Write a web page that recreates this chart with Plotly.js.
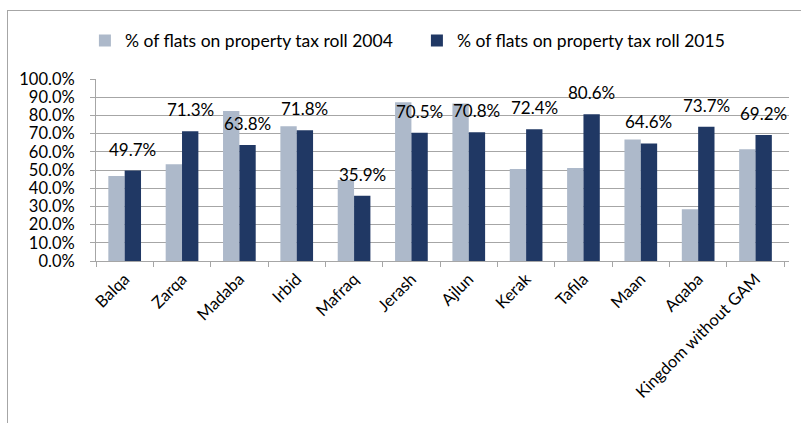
<!DOCTYPE html>
<html><head><meta charset="utf-8">
<script src="https://cdn.plot.ly/plotly-3.0.1.min.js"></script>
<style>
html,body{margin:0;padding:0;background:#fff;}
#wrap{position:relative;width:801px;height:423px;overflow:hidden;}
#chart{position:absolute;left:0;top:0;width:801px;height:423px;}
#frame{position:absolute;left:7px;top:10px;width:820px;height:440px;border:1px solid #a6a6a6;pointer-events:none;}
</style></head>
<body><div id="wrap"><div id="chart"></div><div id="frame"></div></div>
<script>
const categories = ["Balqa","Zarqa","Madaba","Irbid","Mafraq","Jerash","Ajlun","Kerak","Tafila","Maan","Aqaba","Kingdom without GAM"];
const series2004 = [0.467,0.531,0.824,0.740,0.445,0.872,0.866,0.505,0.511,0.667,0.284,0.614];
const series2015 = [0.497,0.713,0.638,0.718,0.359,0.705,0.708,0.724,0.806,0.646,0.737,0.692];
const name2004 = "% of flats on property tax roll 2004";
const name2015 = "% of flats on property tax roll 2015";
const yTicks = [0,0.1,0.2,0.3,0.4,0.5,0.6,0.7,0.8,0.9,1.0];

const fam = "Lato, 'Open Sans', sans-serif";
const tickFont = {family:fam, size:16.5, color:"#000"};
const labelFont = {family:fam, size:17, color:"#000"};
const legendFont = {family:fam, size:17.5, color:"#000"};

const traces = [
  {type:"bar", name:name2004, x:categories, y:series2004, marker:{color:"#adb9ca"}, hoverinfo:"skip"},
  {type:"bar", name:name2015, x:categories, y:series2015, marker:{color:"#203864"}, hoverinfo:"skip"}
];

const annotations = categories.map((c,i)=>({
  x:c, y:series2015[i], xref:"x", yref:"y",
  text:(series2015[i]*100).toFixed(1)+"%",
  showarrow:false, xshift:8, yanchor:"bottom", yshift:9,
  font:labelFont
}));

const layout = {
  width:801, height:423,
  margin:{l:96, r:12, t:79, b:162},
  paper_bgcolor:"rgba(0,0,0,0)", plot_bgcolor:"rgba(0,0,0,0)",
  font:tickFont,
  barmode:"group", bargap:0.43, bargroupgap:0,
  showlegend:true,
  legend:{orientation:"h", x:-0.016, y:1.31, xanchor:"left", yanchor:"top",
    entrywidth:287, entrywidthmode:"pixels", font:legendFont, itemclick:false},
  xaxis:{type:"category", tickangle:-45, showline:true, linecolor:"#a6a6a6", linewidth:1,
    ticks:"outside", tickson:"boundaries", ticklen:5, tickcolor:"#a6a6a6",
    ticklabelstandoff:1,
    showgrid:false, tickfont:tickFont, fixedrange:true},
  yaxis:{range:[0,1], tickvals:yTicks, tickformat:".1%", showgrid:true, gridcolor:"#a6a6a6",
    showline:true, linecolor:"#a6a6a6", ticks:"outside", ticklen:5, tickcolor:"#a6a6a6",
    ticklabelstandoff:12,
    zeroline:false, tickfont:tickFont, fixedrange:true},
  annotations:annotations
};
Plotly.newPlot("chart", traces, layout, {displayModeBar:false, staticPlot:true});
</script></body></html>
